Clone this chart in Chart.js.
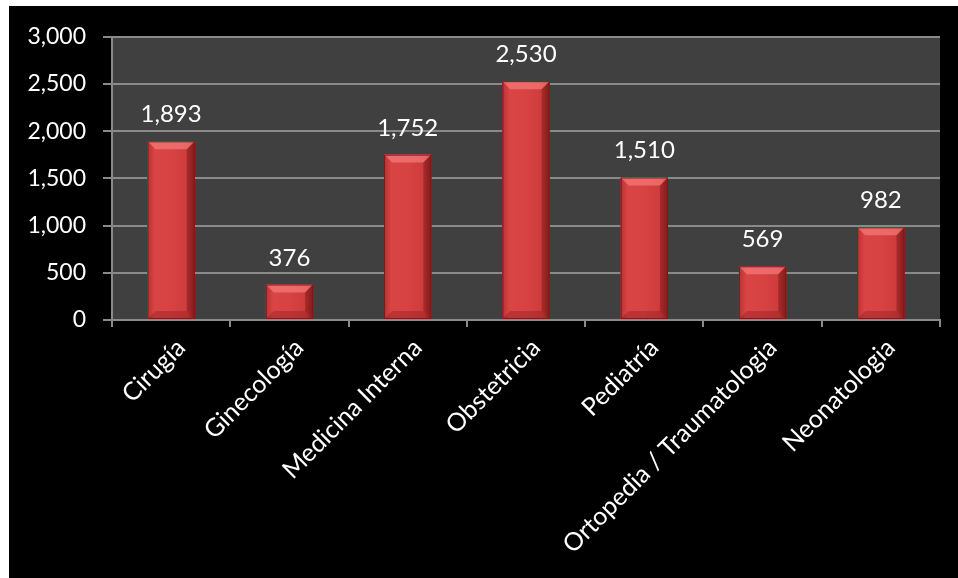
<!DOCTYPE html>
<html lang="es">
    <head>
        <meta charset="UTF-8">
        <title>Servicios</title>
        <script src="https://cdn.jsdelivr.net/npm/chart.js@4.4.1/dist/chart.umd.min.js"></script>
        <style>
            body { margin: 0; background: #ffffff; }
            .contenitore { position: absolute; left: 9px; top: 6px; width: 949px; height: 572px; background: #000000; }
        </style>
    </head>
    <body>
        <div class="contenitore">
            <canvas id="myChart"></canvas>
        </div>
    </body>
    <script>
        const categorie = ["Cirugía", "Ginecología", "Medicina Interna", "Obstetricia", "Pediatría", "Ortopedia / Traumatologia", "Neonatologia"];
        const valori = [1893, 376, 1752, 2530, 1510, 569, 982];
        const yMax = 3000;
        const yStep = 500;

        const fontBase = "Lato, 'Open Sans', sans-serif";

        // sfondo grigio dell'area del grafico
        const sfondoPlugin = {
            id: "sfondo",
            beforeDraw(chart) {
                const a = chart.chartArea;
                const ctx = chart.ctx;
                ctx.save();
                ctx.fillStyle = "#404040";
                ctx.fillRect(a.left, a.top, a.right - a.left, a.bottom - a.top);
                ctx.restore();
            }
        };

        // effetto smussato sulle barre + etichette valori
        const barrePlugin = {
            id: "barre",
            afterDatasetsDraw(chart) {
                const ctx = chart.ctx;
                const meta = chart.getDatasetMeta(0);
                meta.data.forEach(function(bar, i) {
                    const l = bar.x - bar.width / 2;
                    const r = bar.x + bar.width / 2;
                    const t = bar.y;
                    const b = bar.base;
                    const bv = Math.min(8, (b - t) / 2);
                    ctx.save();
                    const g = ctx.createLinearGradient(l, 0, r, 0);
                    g.addColorStop(0, "#b83232");
                    g.addColorStop(0.15, "#d94444");
                    g.addColorStop(0.5, "#d84242");
                    g.addColorStop(0.85, "#cc3c3c");
                    g.addColorStop(1, "#9c2626");
                    ctx.fillStyle = g;
                    ctx.fillRect(l, t, r - l, b - t);
                    // bordo superiore chiaro
                    ctx.fillStyle = "rgba(255,140,140,0.55)";
                    ctx.beginPath();
                    ctx.moveTo(l, t); ctx.lineTo(r, t); ctx.lineTo(r - bv, t + bv); ctx.lineTo(l + bv, t + bv); ctx.closePath();
                    ctx.fill();
                    // lato destro scuro
                    ctx.fillStyle = "rgba(90,10,10,0.35)";
                    ctx.beginPath();
                    ctx.moveTo(r, t); ctx.lineTo(r, b); ctx.lineTo(r - bv, b - bv); ctx.lineTo(r - bv, t + bv); ctx.closePath();
                    ctx.fill();
                    // lato inferiore
                    ctx.fillStyle = "rgba(90,10,10,0.25)";
                    ctx.beginPath();
                    ctx.moveTo(l, b); ctx.lineTo(r, b); ctx.lineTo(r - bv, b - bv); ctx.lineTo(l + bv, b - bv); ctx.closePath();
                    ctx.fill();
                    ctx.strokeStyle = "#7a1a1a";
                    ctx.lineWidth = 1;
                    ctx.strokeRect(l + 0.5, t + 0.5, r - l - 1, b - t - 1);
                    // valore
                    ctx.fillStyle = "#ffffff";
                    ctx.font = "24px " + fontBase;
                    ctx.textAlign = "center";
                    ctx.textBaseline = "alphabetic";
                    ctx.fillText(valori[i].toLocaleString("en-US"), bar.x, t - 19);
                    ctx.restore();
                });
            }
        };

        new Chart("myChart", {
            type: "bar",
            data: {
                labels: categorie,
                datasets: [{
                    data: valori,
                    backgroundColor: "#d44040",
                    barPercentage: 0.4,
                    categoryPercentage: 1.0
                }]
            },
            plugins: [sfondoPlugin, barrePlugin],
            options: {
                responsive: true,
                maintainAspectRatio: false,
                animation: false,
                layout: { padding: { top: 30, right: 18, left: 0, bottom: 0 } },
                plugins: {
                    legend: { display: false },
                    tooltip: { enabled: false }
                },
                scales: {
                    x: {
                        grid: { drawOnChartArea: false, drawTicks: true, tickLength: 7, color: "#8a8a8a", lineWidth: 2 },
                        border: { color: "#8a8a8a", width: 2 },
                        ticks: { color: "#ffffff", font: { family: fontBase, size: 25 }, minRotation: 45, maxRotation: 45, padding: 6, labelOffset: 10 },
                        afterFit: function(scale) { scale.height = 258; }
                    },
                    y: {
                        min: 0,
                        max: yMax,
                        grid: { color: "#8a8a8a", lineWidth: 2, tickLength: 9 },
                        border: { color: "#8a8a8a", width: 2 },
                        ticks: {
                            stepSize: yStep,
                            color: "#ffffff",
                            font: { family: fontBase, size: 23 },
                            padding: 17,
                            callback: function(v) { return v.toLocaleString("en-US"); }
                        },
                        afterFit: function(scale) { scale.width = 103; }
                    }
                }
            }
        });
    </script>
</html>
